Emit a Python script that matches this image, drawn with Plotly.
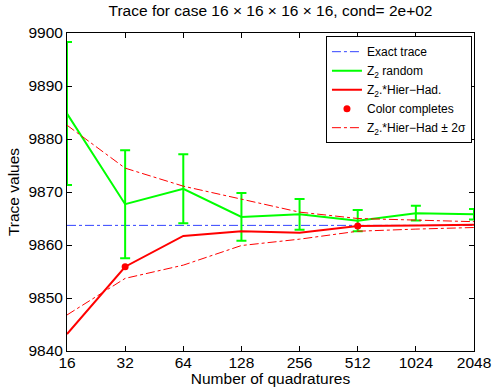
import numpy as np
import plotly.graph_objects as go

quad = [16, 32, 64, 128, 256, 512, 1024, 2048]
tick_labels = ["16", "32", "64", "128", "256", "512", "1024", "2048"]
y_ticks = [9840, 9850, 9860, 9870, 9880, 9890, 9900]
exact_trace = 9863.7
z2_random = [9884.8, 9867.7, 9870.6, 9865.3, 9865.8, 9864.6, 9866.0, 9865.8]
z2_err = [13.5, 10.2, 6.5, 4.5, 2.9, 2.0, 1.4, 1.0]
hier_had = [9843.2, 9855.9, 9861.7, 9862.6, 9862.3, 9863.6, 9863.7, 9863.8]
upper_2s = [9882.6, 9874.5, 9871.1, 9868.7, 9866.2, 9865.0, 9864.7, 9864.4]
lower_2s = [9846.8, 9853.7, 9856.2, 9859.9, 9861.1, 9862.6, 9863.0, 9863.3]
color_q = [32, 512]
color_vals = [9855.9, 9863.6]

FONT = "Liberation Sans, Arial, sans-serif"

fig = go.Figure()
fig.add_trace(go.Scatter(x=[quad[0], quad[-1]], y=[exact_trace, exact_trace], mode="lines",
                         line=dict(color="#3344FF", width=1, dash="dashdot"),
                         name="Exact trace"))
fig.add_trace(go.Scatter(x=quad, y=z2_random, mode="lines",
                         line=dict(color="#00FF00", width=2),
                         error_y=dict(type="data", array=z2_err, color="#00FF00", thickness=2, width=5),
                         name="Z<sub>2</sub> random"))
fig.add_trace(go.Scatter(x=quad, y=hier_had, mode="lines",
                         line=dict(color="#FF0000", width=2),
                         name="Z<sub>2</sub>.*Hier\u2212Had."))
fig.add_trace(go.Scatter(x=color_q, y=color_vals, mode="markers",
                         marker=dict(color="#FF0000", size=7),
                         name="Color completes"))
fig.add_trace(go.Scatter(x=quad, y=upper_2s, mode="lines",
                         line=dict(color="#FF0000", width=1, dash="dashdot"),
                         name="Z<sub>2</sub>.*Hier\u2212Had \u00b1 2\u03c3"))
fig.add_trace(go.Scatter(x=quad, y=lower_2s, mode="lines",
                         line=dict(color="#FF0000", width=1, dash="dashdot"),
                         showlegend=False))

fig.update_layout(
    width=492, height=387,
    margin=dict(l=67, r=18, t=33, b=36),
    paper_bgcolor="white", plot_bgcolor="white",
    font=dict(family=FONT, size=15, color="black"),
    title=dict(text="Trace for case 16 \u00d7 16 \u00d7 16 \u00d7 16, cond= 2e+02",
               x=0.5, xref="paper", xanchor="center", y=0.972, yref="container",
               yanchor="middle", font=dict(size=15.5)),
    showlegend=True,
    legend=dict(x=0.995, xanchor="right", y=0.99, yanchor="top",
                bordercolor="black", borderwidth=1, bgcolor="white",
                font=dict(size=12), tracegroupgap=0, itemwidth=30),
)
fig.update_xaxes(type="log", range=[np.log10(16), np.log10(2048)],
                 tickmode="array", tickvals=quad, ticktext=tick_labels,
                 tickfont=dict(size=15.5), ticklabelstandoff=-3,
                 showline=True, mirror="ticks", linecolor="black", linewidth=1,
                 ticks="inside", ticklen=5, tickcolor="black", showgrid=False, zeroline=False,
                 title=dict(text="Number of quadratures", standoff=1, font=dict(size=15.5)),
                 automargin=False)
fig.update_yaxes(range=[9840, 9900], tickmode="array",
                 tickvals=y_ticks, ticktext=[str(v) for v in y_ticks],
                 tickfont=dict(size=15.5),
                 showline=True, mirror="ticks", linecolor="black", linewidth=1,
                 ticks="inside", ticklen=5, tickcolor="black", showgrid=False, zeroline=False,
                 title=dict(text="Trace values", standoff=4, font=dict(size=15.5)),
                 automargin=False)

fig.write_html("out.html")
